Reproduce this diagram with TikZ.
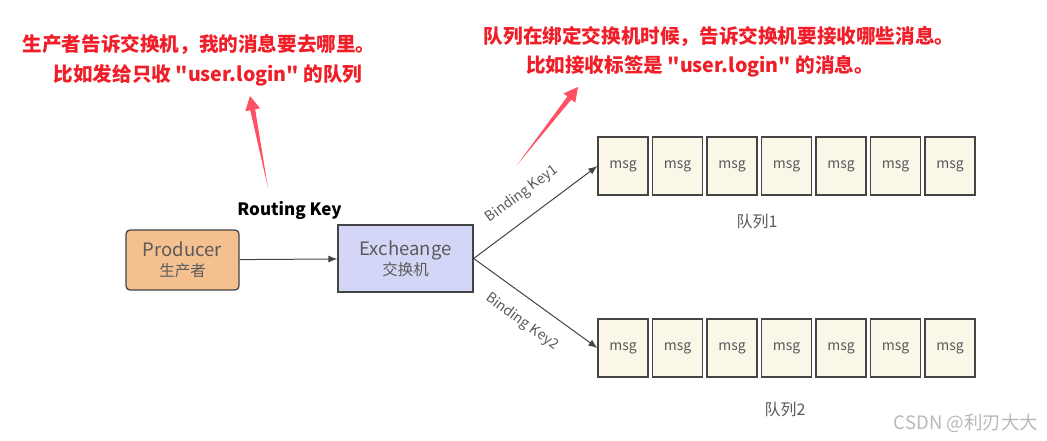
\documentclass[tikz,border=0pt]{standalone}
\usepackage{fontspec}
\setmainfont{Noto Sans CJK SC}[Ligatures=TeXOff]
\usetikzlibrary{arrows.meta,calc}
\definecolor{redtxt}{RGB}{240,30,40}
\definecolor{redarr}{RGB}{255,80,100}
\definecolor{prodfill}{RGB}{245,192,143}
\definecolor{exfill}{RGB}{212,214,248}
\definecolor{msgfill}{RGB}{250,246,232}
\definecolor{edgec}{RGB}{68,68,68}
\definecolor{txtgray}{RGB}{90,90,90}
\definecolor{wmgray}{RGB}{185,185,185}
\newcommand\tapered[2]{%
  \coordinate (tb) at ($(#2)!14pt!(#1)$);
  \fill[redarr] (#1) -- ($(tb)!2.5pt!90:(#2)$) -- ($(tb)!7.5pt!90:(#2)$) -- (#2)
    -- ($(tb)!7.5pt!-90:(#2)$) -- ($(tb)!2.5pt!-90:(#2)$) -- cycle;}
\newcommand\han{\fontsize{15.5}{18}\selectfont}
\begin{document}
\begin{tikzpicture}[x=1pt,y=-1pt,
  note/.style={text=redtxt,font=\fontsize{19.6}{22}\selectfont\bfseries,inner sep=0},
  mainbox/.style={draw=edgec,line width=1.3pt,inner sep=0,text=txtgray,align=center,
    font=\fontsize{18.5}{21}\selectfont},
  msgbox/.style={draw=edgec,line width=1.2pt,fill=msgfill,minimum width=50pt,
    minimum height=58pt,inner sep=0,text=txtgray,font=\fontsize{14}{16}\selectfont},
  conn/.style={draw=edgec,line width=1pt,-{Latex[length=9pt,width=7pt]}},
  keylbl/.style={text=txtgray,font=\fontsize{14}{16}\selectfont,sloped,inner sep=0},
  qlbl/.style={text=txtgray,font=\fontsize{16}{18}\selectfont,inner sep=0}]
\useasboundingbox (0,0) rectangle (1047,441);
\fill[white] (0,0) rectangle (1047,441);

% notes
\node[note] (n1) at (199,45) {生产者告诉交换机，我的消息要去哪里。};
\node[note] (n2) at (208,75) {比如发给只收 "user.login" 的队列};
\node[note] (n3) at (719,37) {队列在绑定交换机时候，告诉交换机要接收哪些消息。};
\node[note] (n4) at (700,66) {比如接收标签是 "user.login" 的消息。};

% red arrows
\coordinate (la) at (268,188);
\coordinate (lb) at (250,96);
\tapered{la}{lb}
\coordinate (ra) at (517,165);
\coordinate (rb) at (578,87);
\tapered{ra}{rb}

% main boxes
\node[mainbox,fill=prodfill,rounded corners=4pt,minimum width=113pt,minimum height=60pt]
  (prod) at (182.5,260) {Producer\\[-1pt]{\han 生产者}};
\node[mainbox,fill=exfill,minimum width=135pt,minimum height=67pt]
  (ex) at (405.5,258.5) {Excheange\\[-1pt]{\han 交换机}};
\node[font=\fontsize{17}{19}\selectfont\bfseries,inner sep=0] (rk) at (289.5,210) {Routing Key};
\draw[conn] (prod) -- (ex);

% queues
\foreach \i in {0,...,6}{
  \node[msgbox] (qa\i) at ({623+\i*54.5},166) {msg};
  \node[msgbox] (qb\i) at ({623+\i*54.5},348) {msg};
}
\node[qlbl] (q1) at (757,221) {队列1};
\node[qlbl] (q2) at (785,409) {队列2};

\draw[conn] (ex.east) -- node[keylbl,above=15pt,pos=0.5] {Binding Key1} (qa0.west);
\draw[conn] (ex.east) -- node[keylbl,below=15pt,pos=0.5] {Binding Key2} (qb0.west);

% watermark
\node[text=wmgray,font=\fontsize{18.5}{20}\selectfont,inner sep=0] (wm) at (966,423) {CSDN @利刃大大};
\end{tikzpicture}
\end{document}
